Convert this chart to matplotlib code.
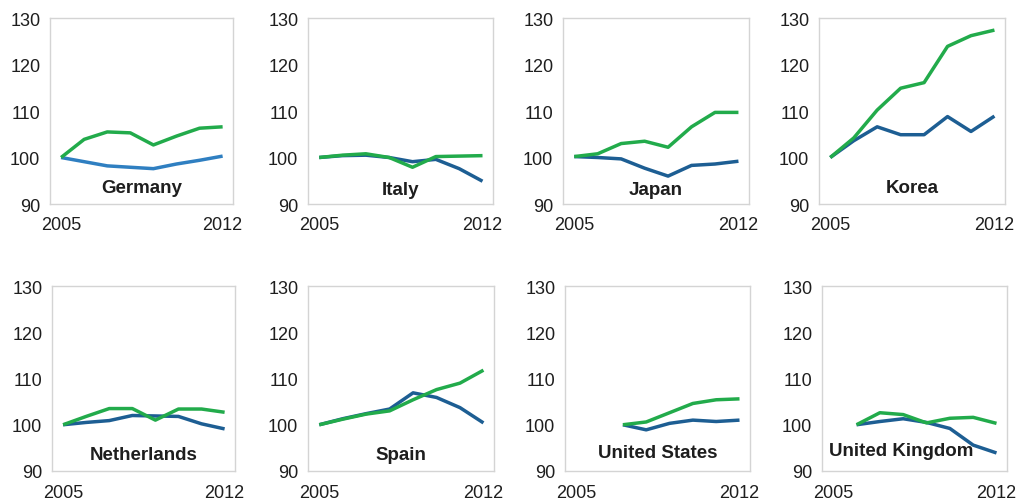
import numpy as np
import matplotlib
matplotlib.use("Agg")
import matplotlib.pyplot as plt

plt.rcParams["font.family"] = ["Liberation Sans", "DejaVu Sans"]

years = [2005, 2006, 2007, 2008, 2009, 2010, 2011, 2012]
countries = ["Germany", "Italy", "Japan", "Korea",
             "Netherlands", "Spain", "United States", "United Kingdom"]
nan = np.nan

# Index values (2005 = 100; US from 2007, UK from 2006)
green_germany = [100, 103.9, 105.5, 105.3, 102.7, 104.6, 106.3, 106.6]
blue_germany = [100, 99.1, 98.2, 97.9, 97.6, 98.6, 99.4, 100.3]
green_italy = [100, 100.5, 100.8, 100.0, 97.9, 100.2, 100.3, 100.4]
blue_italy = [100, 100.4, 100.5, 100.0, 99.1, 99.6, 97.6, 94.9]
green_japan = [100.2, 100.8, 103.0, 103.5, 102.2, 106.6, 109.7, 109.7]
blue_japan = [100.2, 100.0, 99.7, 97.7, 96.0, 98.3, 98.6, 99.2]
green_korea = [100, 104.2, 110.2, 114.9, 116.1, 123.9, 126.2, 127.4]
blue_korea = [100, 103.6, 106.6, 104.9, 104.9, 108.8, 105.6, 108.9]
green_netherlands = [100, 101.8, 103.5, 103.5, 101.0, 103.4, 103.4, 102.7]
blue_netherlands = [100, 100.5, 100.9, 102.0, 101.9, 101.8, 100.2, 99.1]
green_spain = [100, 101.2, 102.3, 103.0, 105.4, 107.6, 109.0, 111.8]
blue_spain = [100, 101.3, 102.4, 103.4, 106.9, 105.9, 103.7, 100.4]
green_us = [nan, nan, 100, 100.6, 102.6, 104.6, 105.4, 105.6]
blue_us = [nan, nan, 100, 98.9, 100.3, 101.0, 100.7, 101.0]
green_uk = [nan, 100, 102.6, 102.2, 100.4, 101.4, 101.6, 100.3]
blue_uk = [nan, 100, 100.7, 101.3, 100.5, 99.2, 95.6, 93.9]

green_series = [green_germany, green_italy, green_japan, green_korea,
                green_netherlands, green_spain, green_us, green_uk]
blue_series = [blue_germany, blue_italy, blue_japan, blue_korea,
               blue_netherlands, blue_spain, blue_us, blue_uk]

y_ticks = [90, 100, 110, 120, 130]
x_ticks = [2005, 2012]

GREEN = "#22ab4b"
BLUE = "#1d5e93"
BLUE_DE = "#2f7fc1"
FRAME = "#d4d4d4"
TEXT = "#1e1e1e"

W, H = 1018, 502
fig = plt.figure(figsize=(W / 100, H / 100), dpi=100)
fig.patch.set_facecolor("white")

# Panel frames in pixels: (left, top, right, bottom)
frames = [
    (50, 19, 233, 205), (308, 19, 493, 205), (563, 19, 749, 205), (819, 19, 1005, 205),
    (52, 287, 235, 472), (308, 287, 494, 472), (565, 287, 750, 472), (822, 287, 1007, 472),
]
label_x = [0.5, 0.5, 0.5, 0.5, 0.5, 0.5, 0.5, 0.43]
label_y = [0.09, 0.08, 0.08, 0.09, 0.09, 0.09, 0.1, 0.11]

for i, name in enumerate(countries):
    l, t, r, b = frames[i]
    ax = fig.add_axes([l / W, 1 - b / H, (r - l) / W, (b - t) / H])
    blue_col = BLUE_DE if name == "Germany" else BLUE
    ax.plot(years, blue_series[i], color=blue_col, lw=2.5, solid_capstyle="butt")
    ax.plot(years, green_series[i], color=GREEN, lw=2.5, solid_capstyle="butt")
    ax.set_xlim(2004.52, 2012.45)
    ax.set_ylim(90, 130)
    ax.set_yticks(y_ticks)
    ax.set_xticks(x_ticks)
    ax.set_xticklabels([str(x) for x in x_ticks])
    ax.tick_params(length=0, labelsize=13, colors=TEXT)
    ax.tick_params(axis="x", pad=9)
    ax.tick_params(axis="y", pad=7)
    for sp in ax.spines.values():
        sp.set_color(FRAME)
        sp.set_linewidth(1.0)
    ax.text(label_x[i], label_y[i], name, transform=ax.transAxes,
            ha="center", va="center", fontsize=13.5, fontweight="bold", color=TEXT)

fig.savefig("out.png", dpi=100, facecolor="white")
